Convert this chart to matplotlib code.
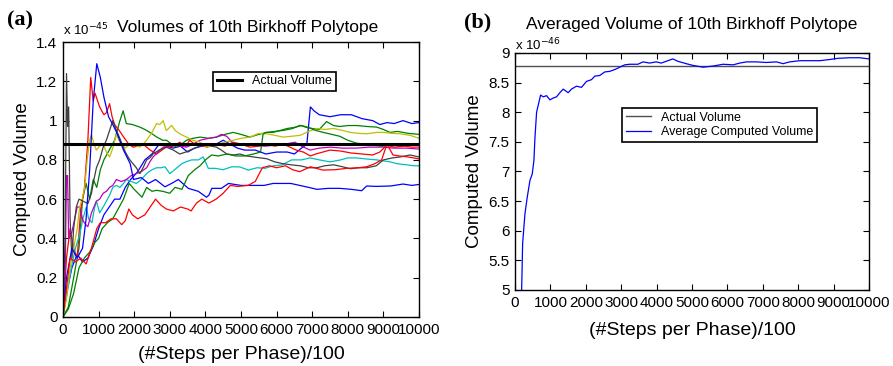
import numpy as np
import matplotlib
matplotlib.use('Agg')
import matplotlib.pyplot as plt

plt.rcParams['font.family'] = ['Liberation Sans', 'DejaVu Sans']

# ---- panel (a): ten runs, values in units of 1e-45 ----
actual_a = 0.879

blue1_x = [0, 100, 250, 400, 550, 700, 850, 1000, 1150, 1300, 1450, 1600, 1750, 1900, 2100, 2300, 2500, 2700, 2900, 3100,
           3300, 3500, 3700, 3900, 4100, 4300, 4500, 4700, 4900, 5100, 5400, 5700, 6000, 6300, 6500, 6700, 6850, 6950,
           7050, 7200, 7500, 7800, 8100, 8400, 8700, 8900, 9100, 9300, 9550, 9800, 10000]
blue1_y = [0, 0.12, 0.25, 0.32, 0.28, 0.3, 0.36, 0.45, 0.52, 0.56, 0.6, 0.6, 0.66, 0.7, 0.74, 0.8, 0.83, 0.88, 0.87, 0.86,
           0.87, 0.84, 0.86, 0.87, 0.87, 0.88, 0.9, 0.88, 0.86, 0.85, 0.85, 0.83, 0.84, 0.84, 0.83, 0.86, 0.88, 1.07,
           1.05, 1.03, 1.02, 1.03, 1.03, 1.01, 1.0, 0.98, 0.99, 0.985, 1.0, 0.985, 0.99]

green1_x = [0, 150, 300, 450, 550, 650, 750, 850, 950, 1050, 1150, 1300, 1450, 1600, 1690, 1780, 1950, 2160, 2300, 2440,
            2630, 2800, 2910, 3050, 3190, 3330, 3470, 3650, 3850, 4100, 4310, 4550, 4780, 5000, 5250, 5500, 5720, 5950,
            6190, 6450, 6660, 6850, 7000, 7200, 7404, 7600, 7780, 8000, 8250, 8550, 8811, 9000, 9185, 9400, 9700, 10000]
green1_y = [0, 0.05, 0.2, 0.35, 0.6, 0.68, 0.6, 0.7, 0.66, 0.75, 0.8, 0.85, 0.9, 1.0, 1.05, 0.985, 0.98, 0.967, 0.955, 0.94,
            0.917, 0.9, 0.9, 0.88, 0.865, 0.88, 0.9, 0.91, 0.916, 0.91, 0.916, 0.93, 0.94, 0.93, 0.916, 0.93, 0.94, 0.945,
            0.95, 0.96, 0.976, 0.965, 0.96, 0.955, 0.995, 0.975, 0.97, 0.975, 0.975, 0.97, 0.967, 0.955, 0.94, 0.945, 0.935, 0.93]

red1_x = [0, 100, 200, 300, 400, 500, 600, 700, 780, 850, 900, 1030, 1150, 1220, 1310, 1380, 1450, 1580, 1690, 1850,
          1970, 2100, 2250, 2450, 2630, 2780, 2900, 3100, 3280, 3450, 3560, 3700, 3850, 4050, 4300, 4550, 4780, 5000,
          5250, 5500, 5720, 5950, 6190, 6376, 6550, 6750, 6950, 7100, 7300, 7500, 7800, 8100, 8400, 8700, 8900, 9092,
          9300, 9600, 9800, 10000]
red1_y = [0, 0.3, 0.45, 0.35, 0.3, 0.55, 0.65, 0.9, 1.22, 1.1, 1.14, 1.07, 1.03, 1.04, 1.086, 1.02, 0.98, 0.95, 0.92, 0.88,
          0.865, 0.87, 0.88, 0.85, 0.83, 0.85, 0.865, 0.87, 0.89, 0.87, 0.9, 0.88, 0.875, 0.865, 0.88, 0.87, 0.89, 0.88,
          0.865, 0.87, 0.88, 0.87, 0.88, 0.865, 0.85, 0.84, 0.82, 0.83, 0.84, 0.85, 0.845, 0.835, 0.83, 0.825, 0.84, 0.875,
          0.865, 0.87, 0.865, 0.865]

cyan_x = [0, 100, 235, 350, 470, 560, 656, 720, 815, 880, 940, 1030, 1130, 1220, 1310, 1400, 1500, 1600, 1700, 1780,
          1920, 2060, 2200, 2350, 2500, 2630, 2760, 2865, 3000, 3140, 3333, 3450, 3614, 3800, 3940, 4082, 4270, 4500,
          4740, 4970, 5205, 5450, 5674, 5910, 6143, 6424, 6700, 6938, 7200, 7500, 7800, 8000, 8250, 8500, 8811, 9000,
          9185, 9400, 9650, 9850, 10000]
cyan_y = [0, 0.1, 0.25, 0.35, 0.42, 0.5, 0.56, 0.5, 0.48, 0.55, 0.59, 0.53, 0.56, 0.59, 0.62, 0.66, 0.67, 0.66, 0.68, 0.7,
          0.69, 0.68, 0.7, 0.73, 0.75, 0.76, 0.76, 0.765, 0.73, 0.75, 0.78, 0.79, 0.8, 0.8, 0.815, 0.757, 0.757, 0.75,
          0.765, 0.764, 0.748, 0.76, 0.757, 0.77, 0.774, 0.8, 0.8, 0.81, 0.8, 0.79, 0.8, 0.81, 0.81, 0.805, 0.8, 0.795,
          0.79, 0.78, 0.775, 0.77, 0.77]

magenta_x = [0, 60, 100, 130, 160, 235, 330, 400, 470, 563, 640, 700, 800, 870, 940, 1030, 1130, 1220, 1310, 1400, 1500,
             1640, 1780, 1920, 2060, 2200, 2350, 2440, 2530, 2670, 2815, 2960, 3100, 3280, 3470, 3650, 3850, 4100, 4310,
             4450, 4600, 4830, 5000, 5250, 5674, 5950, 6236, 6517, 6700, 6938, 7200, 7500, 7850, 8250, 8600, 9000, 9300,
             9650, 10000]
magenta_y = [0, 0.2, 0.72, 0.72, 0.4, 0.42, 0.5, 0.56, 0.56, 0.49, 0.47, 0.46, 0.53, 0.56, 0.59, 0.6, 0.63, 0.64, 0.66, 0.67,
             0.7, 0.69, 0.7, 0.72, 0.73, 0.74, 0.76, 0.79, 0.815, 0.84, 0.865, 0.87, 0.88, 0.87, 0.865, 0.88, 0.9, 0.91,
             0.916, 0.93, 0.92, 0.875, 0.88, 0.875, 0.87, 0.875, 0.88, 0.89, 0.87, 0.85, 0.86, 0.865, 0.86, 0.86, 0.865,
             0.865, 0.86, 0.86, 0.855]

yellow_x = [0, 100, 200, 300, 400, 470, 540, 610, 680, 750, 800, 870, 940, 1030, 1130, 1220, 1310, 1400, 1500, 1570, 1640,
            1750, 1880, 2000, 2160, 2250, 2350, 2500, 2630, 2720, 2815, 2900, 2970, 3050, 3150, 3280, 3470, 3650, 3850,
            4030, 4150, 4310, 4550, 4780, 5000, 5250, 5500, 5720, 5950, 6190, 6400, 6660, 6900, 7130, 7350, 7600, 7850,
            8070, 8300, 8540, 8800, 9000, 9250, 9470, 9750, 10000]
yellow_y = [0, 0.1, 0.25, 0.35, 0.45, 0.56, 0.6, 0.66, 0.8, 0.9, 0.93, 0.88, 0.85, 0.87, 0.88, 0.84, 0.815, 0.86, 0.93, 0.9,
            0.88, 0.86, 0.88, 0.875, 0.865, 0.88, 0.9, 0.94, 0.985, 0.98, 1.0, 0.95, 0.96, 0.976, 0.95, 0.933, 0.916, 0.9,
            0.89, 0.865, 0.87, 0.88, 0.89, 0.9, 0.91, 0.916, 0.935, 0.933, 0.925, 0.916, 0.92, 0.925, 0.945, 0.96, 0.955,
            0.96, 0.95, 0.94, 0.935, 0.933, 0.94, 0.94, 0.935, 0.933, 0.925, 0.91]

black_x = [0, 60, 100, 130, 160, 200, 250, 300, 375, 450, 563, 700, 800, 870, 940, 1030, 1130, 1220, 1310, 1400, 1480, 1550,
           1620, 1690, 1780, 1880, 1970, 2060, 2160, 2250, 2350, 2440, 2530, 2700, 2900, 3100, 3280, 3450, 3660, 3850,
           4030, 4170, 4310, 4450, 4600, 4800, 4970, 5150, 5350, 5550, 5720, 5950, 6190, 6400, 6660, 6900, 7130, 7350,
           7600, 7850, 8070, 8300, 8540, 8800, 9000, 9250, 9470, 9750, 10000]
black_y = [0, 0.4, 1.24, 0.97, 1.07, 0.5, 0.3, 0.45, 0.56, 0.6, 0.59, 0.577, 0.63, 0.7, 0.76, 0.8, 0.865, 0.9, 0.95, 1.0,
           0.96, 0.93, 0.9, 0.865, 0.83, 0.8, 0.78, 0.76, 0.73, 0.76, 0.8, 0.81, 0.83, 0.85, 0.865, 0.85, 0.83, 0.84,
           0.857, 0.87, 0.88, 0.87, 0.865, 0.85, 0.83, 0.825, 0.83, 0.82, 0.815, 0.81, 0.806, 0.79, 0.78, 0.775, 0.77,
           0.76, 0.76, 0.77, 0.775, 0.765, 0.755, 0.76, 0.76, 0.77, 0.8, 0.81, 0.815, 0.825, 0.815]

blue2_x = [0, 100, 250, 400, 550, 650, 750, 850, 950, 1050, 1150, 1280, 1400, 1520, 1700, 1890, 1980, 2200, 2400, 2600,
           2865, 3050, 3240, 3520, 3800, 4030, 4100, 4180, 4450, 4650, 5000, 5300, 5650, 5900, 6150, 6400, 6650, 6900,
           7130, 7450, 7780, 8100, 8390, 8530, 8800, 9200, 9550, 9800, 10000]
blue2_y = [0, 0.2, 0.35, 0.3, 0.35, 0.5, 0.75, 1.1, 1.29, 1.22, 1.12, 1.02, 0.98, 0.935, 0.85, 0.78, 0.7, 0.71, 0.68, 0.7,
           0.663, 0.68, 0.7, 0.655, 0.64, 0.61, 0.62, 0.655, 0.655, 0.68, 0.67, 0.67, 0.67, 0.68, 0.68, 0.68, 0.67, 0.66,
           0.65, 0.655, 0.655, 0.65, 0.643, 0.667, 0.665, 0.667, 0.677, 0.67, 0.675]

green2_x = [0, 150, 300, 450, 600, 750, 900, 1000, 1100, 1250, 1400, 1550, 1700, 1860, 2000, 2220, 2350, 2500, 2630, 2800,
            3000, 3150, 3340, 3520, 3700, 3850, 4000, 4176, 4363, 4600, 4850, 5100, 5350, 5550, 5620, 5700, 5900, 6100,
            6300, 6517, 6700, 6900, 7100, 7312, 7550, 7780, 8000, 8250, 8500, 8720, 8950, 9185, 9500, 9750, 10000]
green2_y = [0, 0.04, 0.12, 0.25, 0.3, 0.33, 0.38, 0.4, 0.45, 0.48, 0.5, 0.55, 0.6, 0.68, 0.65, 0.61, 0.66, 0.64, 0.645, 0.64,
            0.63, 0.66, 0.65, 0.72, 0.75, 0.77, 0.8, 0.825, 0.82, 0.83, 0.82, 0.82, 0.83, 0.84, 0.93, 0.94, 0.94, 0.95,
            0.96, 0.966, 0.975, 0.965, 0.95, 0.94, 0.93, 0.92, 0.9, 0.885, 0.88, 0.875, 0.87, 0.875, 0.88, 0.875, 0.875]

red2_x = [0, 100, 200, 350, 500, 650, 800, 950, 1050, 1200, 1350, 1500, 1650, 1750, 1850, 1950, 2100, 2300, 2450, 2600,
          2750, 2900, 3100, 3300, 3500, 3600, 3750, 3900, 4100, 4300, 4500, 4700, 4900, 5200, 5400, 5600, 5800, 6000,
          6250, 6450, 6650, 6950, 7300, 7650, 7970, 8300, 8530, 8750, 8950, 9100, 9270, 9450, 9650, 9850, 10000]
red2_y = [0, 0.15, 0.3, 0.28, 0.3, 0.27, 0.35, 0.45, 0.48, 0.48, 0.5, 0.5, 0.47, 0.49, 0.55, 0.52, 0.5, 0.52, 0.56, 0.6,
          0.57, 0.55, 0.54, 0.56, 0.55, 0.54, 0.58, 0.6, 0.58, 0.6, 0.63, 0.67, 0.665, 0.67, 0.69, 0.76, 0.77, 0.76,
          0.77, 0.75, 0.74, 0.765, 0.748, 0.75, 0.757, 0.76, 0.765, 0.78, 0.8, 0.88, 0.825, 0.82, 0.816, 0.81, 0.805]

runs = [(blue1_x, blue1_y), (green1_x, green1_y), (red1_x, red1_y), (cyan_x, cyan_y), (magenta_x, magenta_y),
        (yellow_x, yellow_y), (black_x, black_y), (blue2_x, blue2_y), (green2_x, green2_y), (red2_x, red2_y)]
run_colors = ['#0000ff', '#008000', '#ff0000', '#00bfbf', '#bf00bf', '#bfbf00', '#404040', '#0000ff', '#008000', '#ff0000']

# ---- panel (b): averaged volume, units of 1e-46 ----
actual_b = 8.78
avg_x = [188, 216, 282, 347, 423, 488, 535, 563, 610, 657, 723, 798, 892, 986, 1080, 1174, 1268, 1362, 1502, 1596, 1737,
         1878, 2019, 2160, 2254, 2394, 2535, 2676, 2817, 2958, 3099, 3239, 3474, 3615, 3803, 3991, 4131, 4272, 4460,
         4601, 4836, 5033, 5315, 5597, 5880, 6162, 6350, 6538, 6820, 7102, 7385, 7573, 7761, 8043, 8325, 8608, 8890,
         9125, 9454, 9737, 10000]
avg_y = [5.0, 5.79, 6.29, 6.57, 6.85, 6.96, 7.19, 7.56, 8.0, 8.12, 8.29, 8.26, 8.28, 8.21, 8.24, 8.26, 8.33, 8.39, 8.33,
         8.39, 8.44, 8.42, 8.52, 8.55, 8.61, 8.62, 8.68, 8.69, 8.72, 8.76, 8.80, 8.81, 8.81, 8.85, 8.83, 8.85, 8.83,
         8.86, 8.90, 8.86, 8.82, 8.79, 8.76, 8.78, 8.81, 8.80, 8.83, 8.85, 8.85, 8.84, 8.85, 8.82, 8.85, 8.87, 8.87,
         8.87, 8.89, 8.91, 8.92, 8.92, 8.90]

xticks = list(range(0, 10001, 1000))

fig = plt.figure(figsize=(8.93, 3.66), dpi=100)
ax1 = fig.add_axes([0.0705, 0.134, 0.3987, 0.751])
ax2 = fig.add_axes([0.5767, 0.2077, 0.3964, 0.6475])

for (xs, ys), c in zip(runs, run_colors):
    ax1.plot(xs, ys, color=c, lw=0.9)
ax1.axhline(actual_a, color='black', lw=2.2, label='Actual Volume')
ax1.set_xlim(0, 10000)
ax1.set_ylim(0, 1.4)
ax1.set_yticks([0, 0.2, 0.4, 0.6, 0.8, 1.0, 1.2, 1.4])
ax1.set_yticklabels(['0', '0.2', '0.4', '0.6', '0.8', '1', '1.2', '1.4'])
ax1.set_title('Volumes of 10th Birkhoff Polytope', fontsize=12.5, pad=7, x=0.52)
ax1.text(0.0, 1.015, r'x 10$^{-45}$', transform=ax1.transAxes, fontsize=9.5, va='bottom')
leg1 = ax1.legend(loc='upper left', bbox_to_anchor=(0.405, 0.915), fontsize=9, handlelength=2.0,
                  fancybox=False, edgecolor='black', framealpha=1, borderpad=0.3)
leg1.get_frame().set_linewidth(1.2)

ax2.axhline(actual_b, color='#505050', lw=1.0, label='Actual Volume')
ax2.plot(avg_x, avg_y, color='#0000ff', lw=0.9, label='Average Computed Volume')
ax2.set_xlim(0, 10000)
ax2.set_ylim(5, 9)
ax2.set_yticks([5, 5.5, 6, 6.5, 7, 7.5, 8, 8.5, 9])
ax2.set_yticklabels(['5', '5.5', '6', '6.5', '7', '7.5', '8', '8.5', '9'])
ax2.set_title('Averaged Volume of 10th Birkhoff Polytope', fontsize=12.5, pad=17)
ax2.text(0.0, 0.998, r'x 10$^{-46}$', transform=ax2.transAxes, fontsize=9.5, va='bottom')
leg2 = ax2.legend(loc='upper left', bbox_to_anchor=(0.285, 0.795), fontsize=9, handlelength=2.0,
                  fancybox=False, edgecolor='black', framealpha=1, borderpad=0.3, labelspacing=0.2)
leg2.get_frame().set_linewidth(1.2)

for ax in (ax1, ax2):
    ax.set_xticks(xticks)
    ax.tick_params(direction='in', top=True, right=True, labelsize=11, length=4, pad=4)
    ax.set_ylabel('Computed Volume', fontsize=13.5, labelpad=4)
    for s in ax.spines.values():
        s.set_linewidth(1.0)
ax1.set_xlabel('(#Steps per Phase)/100', fontsize=14, labelpad=7)
ax2.set_xlabel('(#Steps per Phase)/100', fontsize=14, labelpad=9)

fig.text(0.008, 0.93, '(a)', fontsize=16, fontweight='bold', family='Liberation Serif')
fig.text(0.52, 0.925, '(b)', fontsize=16, fontweight='bold', family='Liberation Serif')

fig.savefig('out.png', dpi=100)
